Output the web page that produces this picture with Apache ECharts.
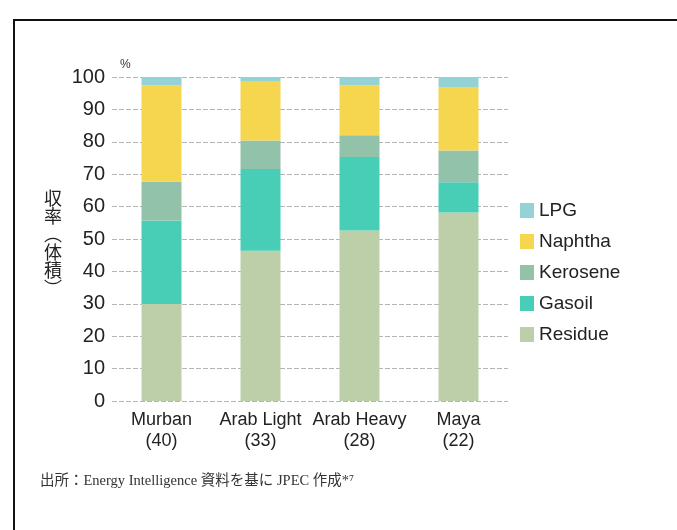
<!DOCTYPE html>
<html>
<head>
<meta charset="utf-8">
<script src="https://cdn.jsdelivr.net/npm/echarts@6/dist/echarts.min.js"></script>
<style>
  html, body { margin: 0; padding: 0; background: #fff; }
  #chart-container { width: 677px; height: 530px; }
</style>
</head>
<body>
<div id="chart-container"></div>
<script>
// 原油ごとの留分収率（体積%）
var crudes = ['Murban\n(40)', 'Arab Light\n(33)', 'Arab Heavy\n(28)', 'Maya\n(22)'];
var residue  = [29.9, 46.4, 52.6, 58.2];
var gasoil   = [25.8, 25.2, 22.7, 9.3];
var kerosene = [12.0, 8.8, 6.7, 9.8];
var naphtha  = [29.7, 18.1, 15.4, 19.6];
var lpg      = [2.6, 1.5, 2.6, 3.1];
var legendOrder = ['LPG', 'Naphtha', 'Kerosene', 'Gasoil', 'Residue'];

var myChart = echarts.init(document.getElementById('chart-container'));

var makeSeries = function (name, data, color) {
    return {
        name: name,
        type: 'bar',
        stack: 'yield',
        barWidth: 40,
        data: data,
        itemStyle: { color: color },
        emphasis: { disabled: true }
    };
};

var option = {
    animation: false,
    backgroundColor: '#fff',
    grid: { left: 112, right: 169, top: 77, bottom: 129 },
    legend: {
        data: legendOrder,
        orient: 'vertical',
        left: 515,
        top: 196,
        itemWidth: 14,
        itemHeight: 15,
        itemGap: 12,
        icon: 'rect',
        textStyle: { fontSize: 19, color: '#222', fontFamily: 'Liberation Sans, Arial, sans-serif' }
    },
    xAxis: {
        type: 'category',
        data: crudes,
        axisLine: { show: false },
        axisTick: { show: false },
        axisLabel: {
            interval: 0,
            fontSize: 18,
            lineHeight: 21,
            margin: 9,
            color: '#222',
            fontFamily: 'Liberation Sans Narrow, Arial Narrow, Liberation Sans, sans-serif'
        }
    },
    yAxis: {
        type: 'value',
        min: 0,
        max: 100,
        interval: 10,
        name: '%',
        nameGap: 6,
        nameTextStyle: { fontSize: 12, color: '#333', align: 'left', padding: [0, 0, 0, 8] },
        axisLine: { show: false },
        axisTick: { show: false },
        axisLabel: { fontSize: 20, color: '#222', margin: 7, fontFamily: 'Liberation Sans, Arial, sans-serif' },
        splitLine: { lineStyle: { color: '#b5b5b5', width: 1, type: [5, 2] } }
    },
    graphic: [
        {
            type: 'rect',
            shape: { x: 14, y: 20, width: 700, height: 600 },
            style: { fill: 'none', stroke: '#111', lineWidth: 2 },
            silent: true
        },
        {
            type: 'text',
            left: 44,
            top: 189,
            style: {
                text: '収\n率\n︵\n体\n積\n︶',
                fontSize: 18,
                lineHeight: 18,
                fill: '#222',
                fontFamily: 'Noto Sans CJK JP'
            }
        },
        {
            type: 'text',
            left: 40,
            top: 474,
            style: {
                text: '出所：Energy Intelligence 資料を基に JPEC 作成*⁷',
                fontSize: 14.5,
                fill: '#333',
                fontFamily: 'Liberation Serif, Noto Sans CJK JP, serif'
            }
        }
    ],
    series: [
        makeSeries('Residue', residue, '#bccfa8'),
        makeSeries('Gasoil', gasoil, '#48cdb6'),
        makeSeries('Kerosene', kerosene, '#92c2aa'),
        makeSeries('Naphtha', naphtha, '#f5d64e'),
        makeSeries('LPG', lpg, '#93d3d6')
    ]
};

myChart.setOption(option);
</script>
</body>
</html>
